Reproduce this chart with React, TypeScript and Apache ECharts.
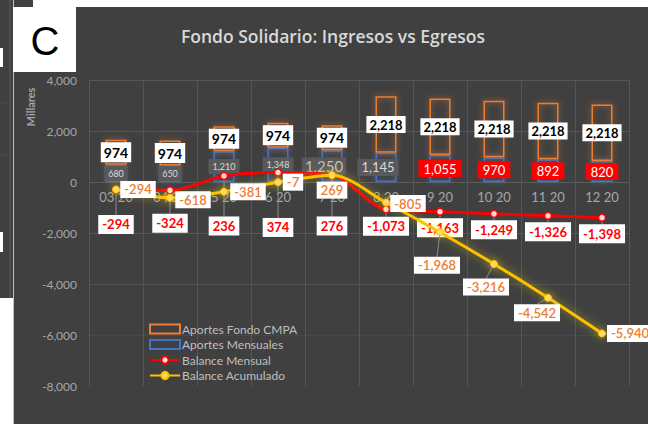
import { useEffect, useRef } from 'react';
import * as echarts from 'echarts';

const months = ['03 20', '04 20', '5 20', '6 20', '7 20', '8 20', '9 20', '10 20', '11 20', '12 20'];
const aportesMensuales = [680, 650, 1210, 1348, 1250, 1145, 1055, 970, 892, 820];
const aportesFondo = [974, 974, 974, 974, 974, 2218, 2218, 2218, 2218, 2218];
const balanceMensual = [-294, -324, 236, 374, 276, -1073, -1163, -1249, -1326, -1398];
const balanceAcumulado = [-294, -618, -381, -7, 269, -805, -1968, -3216, -4542, -5940];

// label placement (pixel shifts from each point), layout only
const mensualLabelShift = [35, 33, 50, 55, 51, 17, 16, 16, 16, 16];
const acumLabelShift: [number, number][] = [
  [22, 0], [23, 2], [24, 0], [15, 0], [0, 15], [22, 1], [-3, 33], [-8, 23], [-11, 15], [28, 0],
];

const FONT = 'Lato, "Open Sans", sans-serif';
const fmt = (v: number) => v.toLocaleString('en-US');

function mensualLabel(i: number) {
  if (i <= 3) {
    return { backgroundColor: '#595959', color: '#d9d9d9', fontSize: 9, padding: [3, 4] };
  }
  if (i === 4) {
    return { backgroundColor: '#595959', color: '#bfbfbf', fontSize: 15, padding: [1, 3], offset: [-8, 0] };
  }
  if (i === 5) {
    return { backgroundColor: '#595959', color: '#d9d9d9', fontSize: 13, padding: [2, 4], offset: [-8, 0] };
  }
  return { backgroundColor: '#ff0000', color: '#ffffff', fontSize: 13, padding: [2, 5] };
}

export default function App() {
  const ref = useRef<HTMLDivElement>(null);
  useEffect(() => {
    if (!ref.current) return;
    const chart = echarts.init(ref.current, null, { renderer: 'svg' });
    chart.setOption({
      animation: false,
      backgroundColor: '#404040',
      textStyle: { fontFamily: FONT },
      title: {
        text: 'Fondo Solidario: Ingresos vs Egresos',
        left: 328,
        textAlign: 'center',
        top: 22,
        textStyle: { color: '#d9d9d9', fontSize: 17.5, fontWeight: 600, fontFamily: '"Open Sans", sans-serif' },
      },
      graphic: [
        { type: 'rect', shape: { x: 33, y: 0, width: 615, height: 7 }, style: { fill: '#ffffff' } },
        { type: 'rect', shape: { x: 0, y: 298, width: 13, height: 126 }, style: { fill: '#ffffff' } },
        { type: 'line', shape: { x1: 10, y1: 0, x2: 10, y2: 298 }, style: { stroke: '#5a5a5a', lineWidth: 1 } },
        { type: 'line', shape: { x1: 0, y1: 103, x2: 10, y2: 103 }, style: { stroke: '#4c4c4c', lineWidth: 1 } },
        { type: 'line', shape: { x1: 0, y1: 155, x2: 10, y2: 155 }, style: { stroke: '#4c4c4c', lineWidth: 1 } },
        { type: 'rect', shape: { x: 0, y: 48, width: 3, height: 19 }, style: { fill: '#ffffff' } },
        { type: 'rect', shape: { x: 0, y: 232, width: 3, height: 20 }, style: { fill: '#ffffff' } },
        { type: 'line', shape: { x1: 13.5, y1: 0, x2: 13.5, y2: 424 }, style: { stroke: '#bfbfbf', lineWidth: 1 } },
        { type: 'rect', shape: { x: 13, y: 7, width: 63, height: 65 }, style: { fill: '#ffffff' } },
        {
          type: 'text', x: 45, y: 41,
          style: { text: 'C', fontSize: 40, fontFamily: '"Liberation Sans", Arial, sans-serif', fill: '#000000', align: 'center', verticalAlign: 'middle' },
        },
        {
          type: 'text', x: 30, y: 107, rotation: Math.PI / 2,
          style: { text: 'Millares', fontSize: 11, fontWeight: 'bold', fontFamily: FONT, fill: '#a6a6a6', align: 'center', verticalAlign: 'middle' },
        },
      ],
      legend: {
        orient: 'vertical',
        left: 149,
        top: 323,
        itemWidth: 30,
        itemHeight: 9,
        itemGap: 3.5,
        padding: 0,
        textStyle: { color: '#bfbfbf', fontSize: 12, lineHeight: 12, fontFamily: FONT, padding: [0, 0, 0, -3] },
        data: [
          { name: 'Aportes Fondo CMPA', icon: 'rect' },
          { name: 'Aportes Mensuales', icon: 'rect' },
          { name: 'Balance Mensual' },
          { name: 'Balance Acumulado' },
        ],
      },
      grid: { left: 89, right: 19, top: 80, bottom: 38 },
      xAxis: {
        type: 'category',
        data: months,
        axisLine: { show: false, onZero: false },
        axisTick: { show: false },
        axisLabel: { color: '#a6a6a6', fontSize: 13, margin: -196, fontFamily: FONT },
        splitLine: { show: true, lineStyle: { color: '#555555' } },
      },
      yAxis: {
        type: 'value',
        min: -8000,
        max: 4000,
        interval: 2000,
        axisLine: { show: false },
        axisTick: { show: false },
        axisLabel: { color: '#a6a6a6', fontSize: 12, margin: 12, fontFamily: FONT, formatter: (v: number) => fmt(v) },
        splitLine: {
          lineStyle: { color: ['rgba(0,0,0,0)', '#484848', '#535353', '#575757', '#5c5c5c', '#575757', '#575757'] },
        },
      },
      series: [
        {
          name: 'Aportes Mensuales',
          type: 'bar',
          stack: 'a',
          barWidth: 21,
          itemStyle: { color: 'rgba(0,0,0,0)', borderColor: '#4472c4', borderWidth: 1.5, shadowBlur: 5, shadowColor: 'rgba(68,114,196,0.8)' },
          label: { show: true, position: 'inside', formatter: (p: any) => fmt(p.value), fontFamily: FONT },
          data: aportesMensuales.map((v, i) => ({ value: v, label: mensualLabel(i) })),
          z: 2,
        },
        {
          name: 'Aportes Fondo CMPA',
          type: 'bar',
          stack: 'a',
          barWidth: 21,
          itemStyle: { color: 'rgba(0,0,0,0)', borderColor: '#ed7d31', borderWidth: 1.5, shadowBlur: 6, shadowColor: 'rgba(237,125,49,0.8)' },
          label: {
            show: true, position: 'inside', formatter: (p: any) => fmt(p.value),
            backgroundColor: '#ffffff', color: '#000000', fontWeight: 'bold', fontFamily: FONT,
          },
          data: aportesFondo.map((v, i) => ({
            value: v,
            label: i <= 4 ? { fontSize: 14, padding: [3, 3] } : { fontSize: 13, padding: [2, 3] },
          })),
          z: 2,
        },
        {
          name: 'Balance Mensual',
          type: 'line',
          smooth: 0.3,
          symbol: 'circle',
          symbolSize: 7,
          lineStyle: { color: '#ff0000', width: 3 },
          itemStyle: { color: '#f2dcdb', borderColor: '#ff0000', borderWidth: 1.5 },
          label: {
            show: true, position: 'inside', formatter: (p: any) => fmt(p.value),
            backgroundColor: '#ffffff', color: '#ff0000', fontWeight: 'bold', fontSize: 13, padding: [3, 4], fontFamily: FONT,
          },
          labelLine: { show: true, lineStyle: { color: '#8c8c8c', width: 1 } },
          labelLayout: (p: any) => ({
            x: p.rect.x + p.rect.width / 2,
            y: p.rect.y + p.rect.height / 2 + mensualLabelShift[p.dataIndex],
            align: 'center',
            verticalAlign: 'middle',
          }),
          data: balanceMensual,
          z: 3,
        },
        {
          name: 'Balance Acumulado',
          type: 'line',
          smooth: 0.3,
          symbol: 'circle',
          symbolSize: 7,
          lineStyle: { color: '#ffc000', width: 3, shadowBlur: 8, shadowColor: 'rgba(255,230,0,0.55)' },
          itemStyle: { color: '#ffd966', borderColor: '#ffc000', borderWidth: 1, shadowBlur: 8, shadowColor: 'rgba(255,230,0,0.6)' },
          label: {
            show: true, position: 'inside', formatter: (p: any) => fmt(p.value),
            backgroundColor: '#ffffff', color: '#ed7d31', fontWeight: 600, fontSize: 13, padding: [2, 4], fontFamily: FONT,
          },
          labelLine: { show: true, lineStyle: { color: '#8c8c8c', width: 1 } },
          labelLayout: (p: any) => ({
            x: p.rect.x + p.rect.width / 2 + acumLabelShift[p.dataIndex][0],
            y: p.rect.y + p.rect.height / 2 + acumLabelShift[p.dataIndex][1],
            align: 'center',
            verticalAlign: 'middle',
          }),
          data: balanceAcumulado,
          z: 4,
        },
      ],
    });
    return () => chart.dispose();
  }, []);
  return <div ref={ref} style={{ position: 'fixed', left: 0, top: 0, width: 648, height: 424 }} />;
}
